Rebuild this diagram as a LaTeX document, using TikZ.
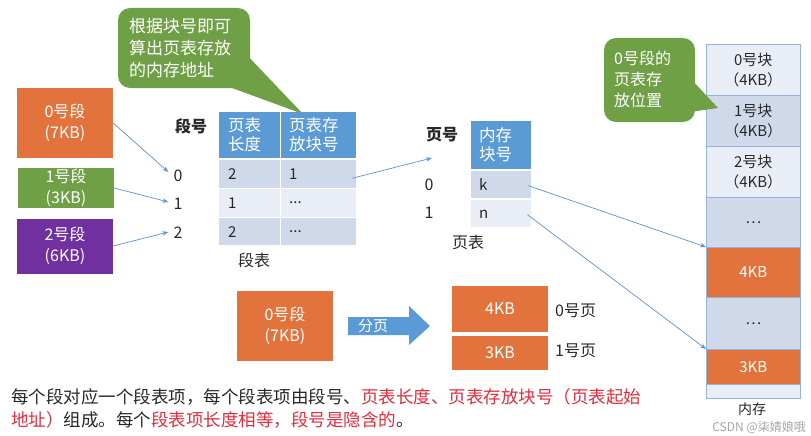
\documentclass[tikz,border=0pt]{standalone}
\usepackage{fontspec}
\setmainfont{Noto Sans CJK SC}
\usetikzlibrary{arrows.meta,calc}
\definecolor{og}{RGB}{226,115,60}
\definecolor{gn}{RGB}{112,160,70}
\definecolor{pp}{RGB}{112,48,160}
\definecolor{hb}{RGB}{91,155,213}
\definecolor{rd}{RGB}{207,217,234}
\definecolor{rl}{RGB}{233,238,246}
\definecolor{mb}{RGB}{150,178,222}
\definecolor{ar}{RGB}{95,145,205}
\definecolor{tx}{RGB}{40,40,40}
\definecolor{red1}{RGB}{225,45,60}
\tikzset{
  segbox/.style={fill=#1,minimum width=96pt,inner sep=0pt,align=center,text=white,font=\fontsize{16}{21}\selectfont},
  cell/.style={fill=#1,inner sep=0pt,anchor=north west},
  ctext/.style={text=tx,font=\fontsize{15}{18}\selectfont,anchor=west,inner sep=0pt},
  htext/.style={text=white,font=\fontsize{16.5}{19}\selectfont,anchor=west,inner sep=0pt,align=left},
  lbl/.style={text=tx,font=\fontsize{16}{19}\selectfont,inner sep=0pt},
  conn/.style={draw=ar,line width=0.7pt,-{Stealth[length=6pt,width=4.5pt]}},
  memblk/.style={fill=#1,draw=mb,line width=0.6pt,minimum width=94pt,inner sep=0pt,anchor=north west,align=center,text=tx,font=\fontsize{15}{20}\selectfont},
  callout/.style={fill=gn,rounded corners=12pt},
}
\begin{document}
\begin{tikzpicture}[x=1pt,y=-1pt]
\useasboundingbox[fill=white] (0,0) rectangle (811,436);

% callout 1
\fill[gn] (244,52) -- (303,114) -- (232,88) -- cycle;
\fill[callout] (118,8) rectangle (250,88);
\node[text=white,font=\fontsize{17}{22}\selectfont,align=left,inner sep=0pt,anchor=west] (c1) at (129,48) {根据块号即可\\算出页表存放\\的内存地址};

% segments
\node[segbox=og,minimum height=70pt] (s0) at (65,123) {0号段\\(7KB)};
\node[segbox=gn,minimum height=40pt] (s1) at (66,188) {1号段\\(3KB)};
\node[segbox=pp,minimum height=55pt] (s2) at (65,246) {2号段\\(6KB)};

\node[lbl,font=\bfseries\fontsize{16}{19}\selectfont] (dh) at (191,126) {段号};
\node[lbl] (n0) at (178,176) {0};
\node[lbl] (n1) at (178,204) {1};
\node[lbl] (n2) at (178,233) {2};

\draw[conn] (s0.east) -- ($(n0.west)+(-5,-4)$);
\draw[conn] (s1.east) -- ($(n1.west)+(-5,-2)$);
\draw[conn] (s2.east) -- ($(n2.west)+(-5,-1)$);

% segment table
\node[cell=hb,minimum width=61pt,minimum height=46pt] (h1) at (219,112) {};
\node[cell=hb,minimum width=75pt,minimum height=46pt] (h2) at (281,112) {};
\node[htext] at (228,135) {页表\\长度};
\node[htext] at (289,135) {页表存\\放块号};
\node[cell=rd,minimum width=61pt,minimum height=28pt] (a1) at (219,160) {};
\node[cell=rd,minimum width=75pt,minimum height=28pt] (b1) at (281,160) {};
\node[cell=rl,minimum width=61pt,minimum height=28pt] (a2) at (219,189) {};
\node[cell=rl,minimum width=75pt,minimum height=28pt] (b2) at (281,189) {};
\node[cell=rd,minimum width=61pt,minimum height=27pt] (a3) at (219,218) {};
\node[cell=rd,minimum width=75pt,minimum height=27pt] (b3) at (281,218) {};
\node[ctext] at (228,174) {2};
\node[ctext] at (289,174) {1};
\node[ctext] at (228,203) {1};
\node[ctext] at (289,203) {...};
\node[ctext] at (228,232) {2};
\node[ctext] at (289,232) {...};
\node[lbl] (dbl) at (254,260) {段表};

% page table
\node[lbl,font=\bfseries\fontsize{16}{19}\selectfont] (yh) at (442,135) {页号};
\coordinate (yhin) at (432,158);
\draw[conn] ($(b1.east)+(-4,4)$) -- (yhin);
\node[cell=hb,minimum width=60pt,minimum height=48pt] (ph) at (471,121) {};
\node[htext] at (479,145) {内存\\块号};
\node[cell=rd,minimum width=60pt,minimum height=27pt] (pk) at (471,171) {};
\node[cell=rl,minimum width=60pt,minimum height=27pt] (pn) at (471,200) {};
\node[ctext] at (479,185) {k};
\node[ctext] at (479,214) {n};
\node[lbl] (p0) at (429,185) {0};
\node[lbl] (p1) at (429,213) {1};
\node[lbl] (pbl) at (468,242) {页表};

% memory
\node[memblk=rl,minimum height=51pt] (m0) at (706,44) {0号块\\（4KB）};
\node[memblk=rd,minimum height=51pt] (m1) at (706,95) {1号块\\（4KB）};
\node[memblk=rl,minimum height=51pt] (m2) at (706,146) {2号块\\（4KB）};
\node[memblk=rd,minimum height=51pt] (m3) at (706,197) {…};
\node[memblk=og,minimum height=50pt,text=white] (m4) at (706,247) {4KB};
\node[memblk=rd,minimum height=52pt] (m5) at (706,297) {…};
\node[memblk=og,minimum height=35pt,text=white] (m6) at (706,349) {3KB};
\node[memblk=rl,minimum height=14pt] (m7) at (706,384) {};
\node[lbl,font=\fontsize{14}{16}\selectfont] (nc) at (752,409) {内存};
\node[text=gray!70,font=\fontsize{12}{14}\selectfont,inner sep=0pt,anchor=east] (wm) at (806,427) {CSDN @柒婧娘哦};

\draw[conn] ($(pk.east)+(-3,1)$) -- (m4.north west);
\draw[conn] ($(pn.east)+(-4,1)$) -- (m6.north west);

% callout 2
\fill[gn] (690,78) -- (718,108) -- (690,112) -- cycle;
\fill[callout] (604,38) rectangle (695,122);
\node[text=white,font=\fontsize{16}{21}\selectfont,align=left,inner sep=0pt,anchor=west] (c2) at (614,79) {0号段的\\页表存\\放位置};

% bottom: paging
\node[segbox=og,minimum height=70pt] (bs) at (285,326) {0号段\\(7KB)};
\fill[hb] (348,317) -- (409,317) -- (409,306) -- (430,326) -- (409,345) -- (409,335) -- (348,335) -- cycle;
\node[text=white,font=\fontsize{15}{18}\selectfont,inner sep=0pt] (fy) at (373,326) {分页};
\node[segbox=og,minimum height=46pt] (q0) at (500,309) {4KB};
\node[segbox=og,minimum height=34pt] (q1) at (500,353) {3KB};
\node[lbl,anchor=west] (y0) at (555,311) {0号页};
\node[lbl,anchor=west] (y1) at (555,351) {1号页};

% bottom text
\node[anchor=west,inner sep=0pt,text=tx,font=\fontsize{17.5}{23}\selectfont,align=left] (note) at (11,408)
{每个段对应一个段表项，每个段表项由段号、\textcolor{red1}{页表长度、页表存放块号（页表起始}\\
\textcolor{red1}{地址）}组成。每个\textcolor{red1}{段表项长度相等，段号是隐含的}。};
\end{tikzpicture}
\end{document}
